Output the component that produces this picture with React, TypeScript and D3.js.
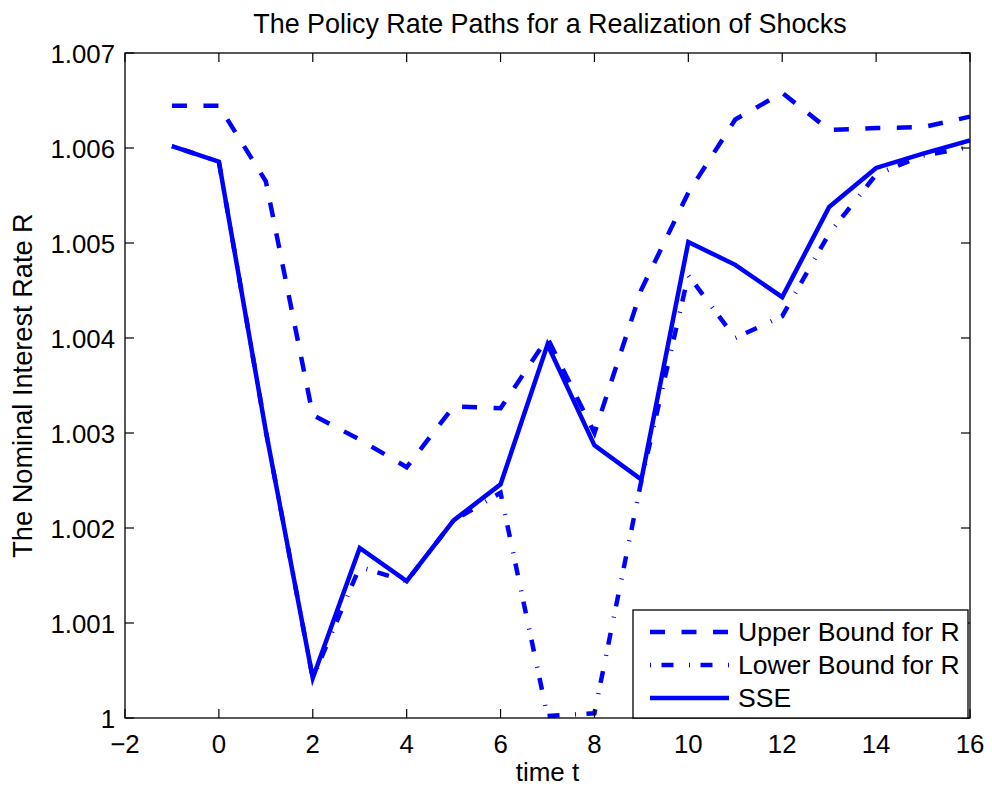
import * as d3 from "d3";

// time steps and paths
const timeSteps = [-1, 0, 1, 2, 3, 4, 5, 6, 7, 8, 9, 10, 11, 12, 13, 14, 15, 16];
const upperBound = [1.006445, 1.006445, 1.00565, 1.00319, 1.00293, 1.00264, 1.00328, 1.00326, 1.004, 1.003, 1.00451, 1.00553, 1.0063, 1.00658, 1.00619, 1.00621, 1.00622, 1.00633];
const lowerBound = [1.00602, 1.005856, 1.00302, 1.00042, 1.00159, 1.00144, 1.00208, 1.00237, 1.00002, 1.00005, 1.0025, 1.00466, 1.004, 1.00423, 1.0051, 1.00572, 1.00592, 1.00601];
const sse = [1.00602, 1.005856, 1.00302, 1.00042, 1.00179, 1.00144, 1.00208, 1.00246, 1.00393, 1.00287, 1.00251, 1.00501, 1.00477, 1.00443, 1.00538, 1.00579, 1.00594, 1.00608];

const xTicks = [-2, 0, 2, 4, 6, 8, 10, 12, 14, 16];
const xTickLabels = ["\u22122", "0", "2", "4", "6", "8", "10", "12", "14", "16"];
const yTicks = [1, 1.001, 1.002, 1.003, 1.004, 1.005, 1.006, 1.007];
const yTickLabels = ["1", "1.001", "1.002", "1.003", "1.004", "1.005", "1.006", "1.007"];

const seriesNames = ["Upper Bound for R", "Lower Bound for R", "SSE"];

const W = 992;
const H = 790;
const margin = { top: 53, right: 22, bottom: 72, left: 125 };
const font = "'Liberation Sans', Arial, Helvetica, sans-serif";
const blue = "#0000ff";

const App = () => {
  const x = d3.scaleLinear().domain([-2, 16]).range([margin.left, W - margin.right]);
  const y = d3.scaleLinear().domain([1, 1.007]).range([H - margin.bottom, margin.top]);
  const [x0, x1] = x.range();
  const [y0, y1] = y.range();

  const line = d3
    .line<number>()
    .x((_, i) => x(timeSteps[i]))
    .y((d) => y(d));

  const styles = [
    { dash: "15,16.5" },
    { dash: "1,10.5,12,15.5" },
    { dash: "none" },
  ];
  const paths = [upperBound, lowerBound, sse];

  // legend box
  const lg = { x: 633, y: 610, w: 335, h: y0 - 610, rowH: 33 };

  return (
    <svg
      width={W}
      height={H}
      style={{ position: "absolute", left: 0, top: 0, background: "#fff" }}
      fontFamily={font}
    >
      <rect x={0} y={0} width={W} height={H} fill="#fff" />
      {paths.map((p, i) => (
        <path
          key={i}
          d={line(p) || ""}
          fill="none"
          stroke={blue}
          strokeWidth={4.5}
          strokeDasharray={styles[i].dash}
          strokeLinejoin="miter"
          strokeLinecap="butt"
        />
      ))}

      {/* box and ticks */}
      <rect x={x0} y={y1} width={x1 - x0} height={y0 - y1} fill="none" stroke="#000" strokeWidth={1.3} />
      {xTicks.map((t, i) => (
        <g key={"xt" + t}>
          <line x1={x(t)} x2={x(t)} y1={y0} y2={y0 - 9} stroke="#000" strokeWidth={1.2} />
          <line x1={x(t)} x2={x(t)} y1={y1} y2={y1 + 9} stroke="#000" strokeWidth={1.2} />
          <text x={x(t)} y={753} textAnchor="middle" fontSize={25.8}>
            {xTickLabels[i]}
          </text>
        </g>
      ))}
      {yTicks.map((t, i) => (
        <g key={"yt" + t}>
          <line x1={x0} x2={x0 + 9} y1={y(t)} y2={y(t)} stroke="#000" strokeWidth={1.2} />
          <line x1={x1} x2={x1 - 9} y1={y(t)} y2={y(t)} stroke="#000" strokeWidth={1.2} />
          <text x={115} y={y(t) + 9.5} textAnchor="end" fontSize={25.8}>
            {yTickLabels[i]}
          </text>
        </g>
      ))}

      <text x={550} y={33} textAnchor="middle" fontSize={26.9}>
        The Policy Rate Paths for a Realization of Shocks
      </text>
      <text x={(x0 + x1) / 2} y={781} textAnchor="middle" fontSize={26}>
        time t
      </text>
      <text
        transform={`translate(32, ${(y0 + y1) / 2}) rotate(-90)`}
        textAnchor="middle"
        fontSize={27.2}
      >
        The Nominal Interest Rate R
      </text>

      {/* legend */}
      <rect x={lg.x} y={lg.y} width={lg.w} height={lg.h} fill="#fff" stroke="#000" strokeWidth={1.3} />
      {seriesNames.map((name, i) => {
        const cy = lg.y + 22 + i * lg.rowH;
        return (
          <g key={name}>
            <line
              x1={650}
              x2={729}
              y1={cy}
              y2={cy}
              stroke={blue}
              strokeWidth={4.5}
              strokeDasharray={styles[i].dash}
            />
            <text x={738} y={cy + 8.5} fontSize={26.6}>
              {name}
            </text>
          </g>
        );
      })}
    </svg>
  );
};

export default App;
